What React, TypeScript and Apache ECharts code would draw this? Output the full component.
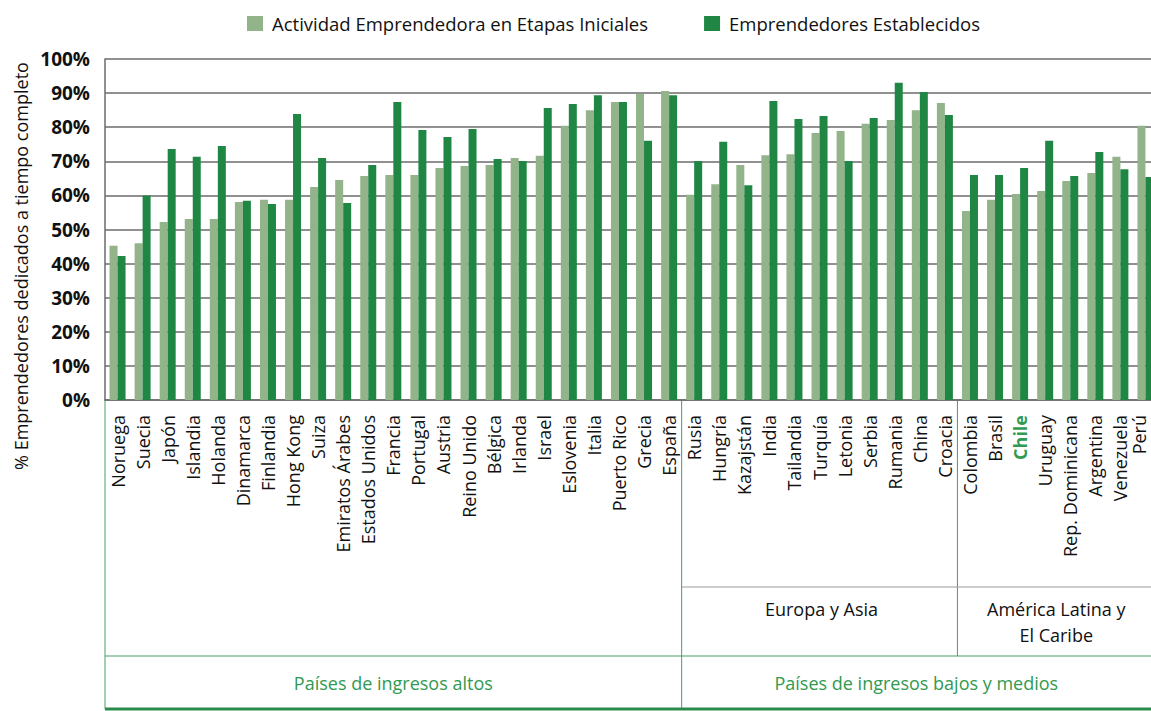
import React, { useEffect, useRef } from "react";
import * as echarts from "echarts";

const categories = [
  "Noruega", "Suecia", "Japón", "Islandia", "Holanda", "Dinamarca", "Finlandia", "Hong Kong",
  "Suiza", "Emiratos Árabes", "Estados Unidos", "Francia", "Portugal", "Austria", "Reino Unido",
  "Bélgica", "Irlanda", "Israel", "Eslovenia", "Italia", "Puerto Rico", "Grecia", "España",
  "Rusia", "Hungría", "Kazajstán", "India", "Tailandia", "Turquía", "Letonia", "Serbia",
  "Rumania", "China", "Croacia",
  "Colombia", "Brasil", "Chile", "Uruguay", "Rep. Dominicana", "Argentina", "Venezuela", "Perú",
];

const actividadInicial = [
  45.2, 46.0, 52.2, 53.1, 53.1, 58.1, 58.7, 58.7, 62.5, 64.5, 65.7, 66.0,
  66.0, 68.0, 68.6, 68.9, 71.0, 71.6, 80.4, 85.0, 87.4, 89.7, 90.6,
  60.2, 63.3, 68.9, 71.8, 72.1, 78.3, 78.9, 81.0, 82.1, 85.0, 87.1,
  55.4, 58.7, 60.4, 61.3, 64.2, 66.6, 71.3, 80.4,
];

const establecidos = [
  42.2, 60.0, 73.6, 71.3, 74.5, 58.4, 57.5, 83.9, 71.0, 57.8, 68.9, 87.4,
  79.2, 77.1, 79.5, 70.7, 70.1, 85.6, 86.8, 89.4, 87.4, 76.0, 89.4,
  70.1, 75.7, 63.0, 87.7, 82.4, 83.3, 70.1, 82.7, 93.0, 90.3, 83.6,
  66.0, 66.0, 68.0, 76.0, 65.7, 72.7, 67.7, 65.4,
];

const seriesNames = ["Actividad Emprendedora en Etapas Iniciales", "Emprendedores Establecidos"];
const yTitle = "% Emprendedores dedicados a tiempo completo";

// income groups: [label, startIndex, endIndex(exclusive)]
const incomeGroups: [string, number, number][] = [
  ["Países de ingresos altos", 0, 23],
  ["Países de ingresos bajos y medios", 23, 42],
];
// regional sub-groups inside the low/middle income group
const regionGroups: [string, number, number][] = [
  ["Europa y Asia", 23, 34],
  ["América Latina y\nEl Caribe", 34, 42],
];
const highlighted = "Chile";

const W = 1151;
const H = 711;
const FONT = "'Open Sans', 'Noto Sans', sans-serif";
const LIGHT = "#93b38b";
const DARK = "#1f8743";
const GREEN_TXT = "#2f9a50";
const GREEN_LINE = "#45a060";
const GRID_COLOR = "#6b6b6b";

const gridLeft = 105;
const gridRight = -7;
const gridTop = 59;
const gridBottom = 311;

export default function App() {
  const ref = useRef<HTMLDivElement>(null);

  useEffect(() => {
    document.body.style.margin = "0";
    if (!ref.current) return;
    const chart = echarts.init(ref.current, undefined, { renderer: "svg" });

    const plotW = W - gridLeft - gridRight;
    const catW = plotW / categories.length;
    const xAt = (i: number) => gridLeft + i * catW;
    const axisY = H - gridBottom;
    const midLineY = 587;
    const groupLineY = 656;
    const bottomY = 709;

    const xData = categories.map((c, i) => {
      if (c === highlighted) {
        return { value: c, textStyle: { color: GREEN_TXT, fontWeight: "bold" } };
      }
      if (i === categories.length - 1) {
        // last label sits at the right edge: nudge it inwards
        return { value: c, textStyle: { verticalAlign: "bottom", lineHeight: 13 } };
      }
      return c;
    });

    const graphics: any[] = [];
    // y-axis title
    graphics.push({
      type: "text",
      x: 21,
      y: 266,
      rotation: Math.PI / 2,
      style: {
        text: yTitle,
        fontFamily: FONT,
        fontSize: 18,
        fill: "#111",
        align: "center",
        verticalAlign: "middle",
      },
    });
    // left border
    graphics.push({
      type: "line",
      shape: { x1: xAt(0), y1: axisY, x2: xAt(0), y2: bottomY },
      style: { stroke: GREEN_LINE, lineWidth: 1 },
    });
    // income group separators & labels
    incomeGroups.forEach(([label, s, e], gi) => {
      if (gi > 0) {
        graphics.push({
          type: "line",
          shape: { x1: xAt(s), y1: axisY, x2: xAt(s), y2: bottomY },
          style: { stroke: GREEN_LINE, lineWidth: 1 },
        });
      }
      const x1 = xAt(s);
      const x2 = Math.min(xAt(e), W);
      graphics.push({
        type: "text",
        x: (x1 + x2) / 2,
        y: 683,
        style: {
          text: label,
          fontFamily: FONT,
          fontSize: 18,
          fill: GREEN_TXT,
          align: "center",
          verticalAlign: "middle",
        },
      });
    });
    // region separators & labels
    regionGroups.forEach(([label, s, e], ri) => {
      if (ri > 0) {
        graphics.push({
          type: "line",
          shape: { x1: xAt(s), y1: axisY, x2: xAt(s), y2: groupLineY },
          style: { stroke: GREEN_LINE, lineWidth: 1 },
        });
      }
      const x1 = xAt(s);
      const x2 = Math.min(xAt(e), W);
      const lines = label.split("\n").length;
      graphics.push({
        type: "text",
        x: (x1 + x2) / 2 + 2,
        y: 609 + (lines - 1) * 13,
        style: {
          text: label,
          fontFamily: FONT,
          fontSize: 18,
          lineHeight: 26,
          fill: "#111",
          align: "center",
          verticalAlign: "middle",
        },
      });
    });
    // horizontal lines
    graphics.push({
      type: "line",
      shape: { x1: xAt(regionGroups[0][1]), y1: midLineY, x2: W, y2: midLineY },
      style: { stroke: "#9a9a9a", lineWidth: 1.2 },
    });
    graphics.push({
      type: "line",
      shape: { x1: xAt(0), y1: groupLineY, x2: W, y2: groupLineY },
      style: { stroke: GREEN_LINE, lineWidth: 1.2 },
    });
    graphics.push({
      type: "line",
      shape: { x1: xAt(0), y1: bottomY, x2: W, y2: bottomY },
      style: { stroke: "#2a8a48", lineWidth: 3 },
    });

    chart.setOption({
      animation: false,
      textStyle: { fontFamily: FONT },
      legend: {
        left: 247,
        top: 14,
        padding: 0,
        itemWidth: 16,
        itemHeight: 15,
        itemGap: 56,
        icon: "rect",
        textStyle: { fontFamily: FONT, fontSize: 18.5, color: "#111", padding: [0, 0, 0, 4] },
        data: seriesNames,
      },
      grid: {
        left: gridLeft,
        right: gridRight,
        top: gridTop,
        bottom: gridBottom,
        containLabel: false,
        outerBoundsMode: "none",
      },
      xAxis: {
        type: "category",
        data: xData,
        axisLine: { show: true, lineStyle: { color: GRID_COLOR, width: 1.5 } },
        axisTick: { show: false },
        axisLabel: {
          interval: 0,
          rotate: 90,
          margin: 15,
          fontFamily: FONT,
          fontSize: 18,
          color: "#111",
        },
      },
      yAxis: {
        type: "value",
        min: 0,
        max: 100,
        interval: 10,
        axisLine: { show: true, lineStyle: { color: GRID_COLOR, width: 1.5 } },
        axisTick: { show: false },
        axisLabel: {
          formatter: "{value}%",
          fontFamily: FONT,
          fontWeight: "bold",
          fontSize: 19,
          color: "#111",
          margin: 15,
        },
        splitLine: { show: true, lineStyle: { color: GRID_COLOR, width: 1.5 } },
      },
      series: [
        {
          name: seriesNames[0],
          type: "bar",
          data: actividadInicial,
          barWidth: 8,
          barGap: "0%",
          itemStyle: { color: LIGHT },
        },
        {
          name: seriesNames[1],
          type: "bar",
          data: establecidos,
          barWidth: 8,
          barGap: "0%",
          itemStyle: { color: DARK },
        },
      ],
      graphic: graphics,
    });

    return () => chart.dispose();
  }, []);

  return <div ref={ref} style={{ width: W, height: H }} />;
}
